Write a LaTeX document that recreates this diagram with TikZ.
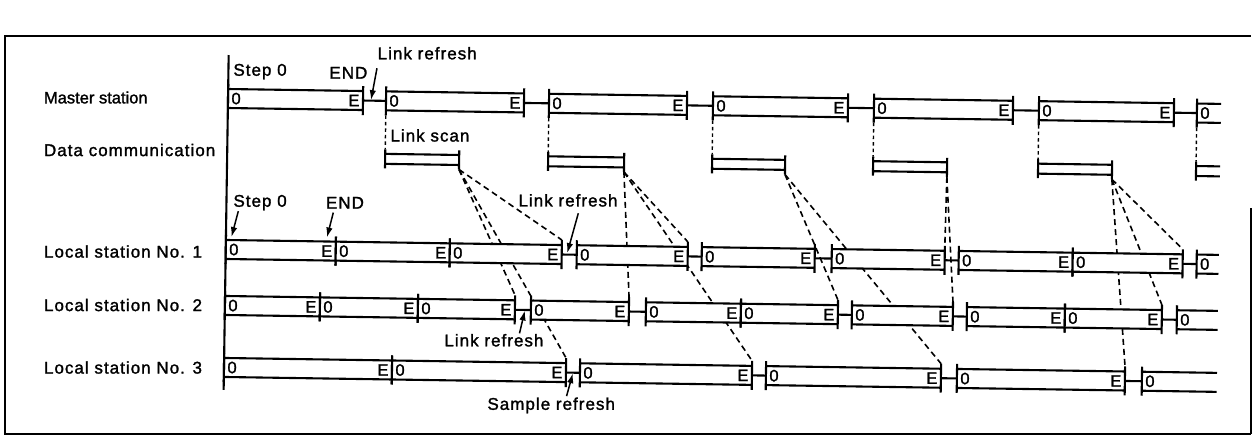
\documentclass[tikz,border=0pt]{standalone}
\usepackage{fontspec}
\setmainfont[LetterSpace=6,FakeBold=1.5]{Liberation Sans}
\newfontfamily\plainlab[FakeBold=1.5]{Liberation Sans}
\usetikzlibrary{arrows.meta}
\pgfdeclarelayer{bg}
\pgfsetlayers{bg,main}
% closed scan segment: name, x1, x2, ytop, ybottom
\newcommand\sg[5]{%
  \fill[white] (#2,#4) rectangle (#3,#5);
  \draw[bl] (#2,#4) -- (#3,#4) (#2,#5) -- (#3,#5)
            (#2,#4-5) -- (#2,#5+5) (#3,#4-5) -- (#3,#5+5);
  \coordinate (#1s) at (#2,#4-5);
  \coordinate (#1sb) at (#2,#5+5);
  \coordinate (#1e) at (#3,#4-5);
  \coordinate (#1eb) at (#3,#5+5);
  \coordinate (#1sm) at (#2,{(#4+#5)/2});
  \coordinate (#1em) at (#3,{(#4+#5)/2});
  \node[zero] (#1z) at (#2+3.5,{(#4+#5)/2}) {0};
  \node[endE] (#1E) at (#3-3.5,{(#4+#5)/2}) {E};
}
% open segment (runs off to the right)
\newcommand\osg[5]{%
  \fill[white] (#2,#4) rectangle (#3,#5);
  \draw[bl] (#2,#4) -- (#3,#4) (#2,#5) -- (#3,#5)
            (#2,#4-5) -- (#2,#5+5);
  \coordinate (#1s) at (#2,#4-5);
  \coordinate (#1sb) at (#2,#5+5);
  \coordinate (#1sm) at (#2,{(#4+#5)/2});
  \node[zero] (#1z) at (#2+3.5,{(#4+#5)/2}) {0};
}
% link scan bar: name, x1, x2
\newcommand\db[3]{%
  \fill[white] (#2,151.5) rectangle (#3,161.5);
  \draw[bl] (#2,151.5) -- (#3,151.5) (#2,161.5) -- (#3,161.5)
            (#2,147) -- (#2,166) (#3,147) -- (#3,166);
  \coordinate (#1s) at (#2,147);
  \coordinate (#1eb) at (#3,166);
}
\newcommand\odb[3]{%
  \draw[bl] (#2,151.5) -- (#3,151.5) (#2,161.5) -- (#3,161.5)
            (#2,147) -- (#2,166);
  \coordinate (#1s) at (#2,147);
}
\newcommand\gp[2]{\draw[bl] (#1em) -- (#2sm);}
\begin{document}
\begin{tikzpicture}[x=1pt,y=-1pt,
  every node/.style={inner sep=0pt,outer sep=0pt},
  bl/.style={line width=2.1pt},
  lab/.style={anchor=west,font=\fontsize{17}{20}\selectfont},
  ann/.style={font=\fontsize{17}{20}\selectfont},
  zero/.style={anchor=west,font=\fontsize{16.5}{18}\selectfont},
  endE/.style={anchor=east,font=\fontsize{16.5}{18}\selectfont},
  dsh/.style={line width=1.6pt,dash pattern=on 6pt off 4pt},
  vdsh/.style={line width=1.4pt,dash pattern=on 3.5pt off 3pt},
  arr/.style={line width=1.5pt,-{Latex[length=10pt,width=6.5pt]}},
]
\useasboundingbox (0,0) rectangle (1253,437);
% frame
\draw[line width=1.5pt] (5,36) -- (1251,36);
\draw[line width=2.6pt] (5,35) -- (5,435);
\draw[line width=1.6pt] (5,434) -- (1251,434);
\draw[line width=1.6pt] (1251,208) -- (1251,434);
% row labels
\node[lab,font=\plainlab\fontsize{16.5}{20}\selectfont] (lm) at (44,97.5) {Master station};
\node[lab] (ld) at (44,150) {Data communication};
\node[lab] (l1) at (44,251.5) {Local station No. 1};
\node[lab] (l2) at (44,305) {Local station No. 2};
\node[lab] (l3) at (44,367.5) {Local station No. 3};
\begin{scope}[rotate around={-0.86:(228,100)}]
% master station
\sg{m1}{228}{363}{89}{108}
\sg{m2}{386}{524}{89}{108}
\sg{m3}{549}{687}{89}{108}
\sg{m4}{713}{848}{89}{108}
\sg{m5}{874}{1013}{89}{108}
\sg{m6}{1039}{1174}{89}{108}
\osg{m7}{1197}{1221}{89}{108}
\gp{m1}{m2}\gp{m2}{m3}\gp{m3}{m4}\gp{m4}{m5}\gp{m5}{m6}\gp{m6}{m7}
% data communication
\db{d1}{386}{460}
\db{d2}{549}{625}
\db{d3}{713}{786}
\db{d4}{874}{948}
\db{d5}{1039}{1113}
\odb{d6}{1197}{1221}
% local station 1
\sg{a1}{228}{338}{240}{259}
\sg{a2}{338}{452}{240}{259}
\sg{a3}{452}{564}{240}{259}
\sg{a4}{579}{690}{240}{259}
\sg{a5}{704}{817}{240}{259}
\sg{a6}{834}{947}{240}{259}
\sg{a7}{961}{1075}{240}{259}
\sg{a8}{1075}{1185}{240}{259}
\osg{a9}{1199}{1221}{240}{259}
\gp{a3}{a4}\gp{a4}{a5}\gp{a5}{a6}\gp{a6}{a7}\gp{a8}{a9}
% local station 2
\sg{b1}{228}{323}{296}{315}
\sg{b2}{323}{421}{296}{315}
\sg{b3}{421}{518}{296}{315}
\sg{b4}{534}{632}{296}{315}
\sg{b5}{649}{744}{296}{315}
\sg{b6}{744}{841}{296}{315}
\sg{b7}{855}{956}{296}{315}
\sg{b8}{970}{1068}{296}{315}
\sg{b9}{1068}{1165}{296}{315}
\osg{b10}{1180}{1221}{296}{315}
\gp{b3}{b4}\gp{b4}{b5}\gp{b6}{b7}\gp{b7}{b8}\gp{b9}{b10}
% local station 3
\sg{c1}{228}{396}{358}{377}
\sg{c2}{396}{570}{358}{377}
\sg{c3}{584}{756}{358}{377}
\sg{c4}{770}{945}{358}{377}
\sg{c5}{961}{1129}{358}{377}
\osg{c6}{1146}{1221}{358}{377}
\gp{c2}{c3}\gp{c3}{c4}\gp{c4}{c5}\gp{c5}{c6}
% time axis
\coordinate (axT) at (228,55);
\coordinate (axB) at (228,390);
\draw[bl] (axT) -- (axB);
% dashed connectors behind the bars
\begin{pgfonlayer}{bg}
\foreach \m/\d in {m2/d1,m3/d2,m4/d3,m5/d4,m6/d5,m7/d6}
  \draw[vdsh] (\m sb) -- (\d s);
\foreach \d/\t in {d1/a3e,d1/b3e,d1/c2e,d2/a4e,d2/b4e,d2/c3e,d3/b6e,d3/c4e,d4/a6e,d4/b7e,d5/a8e,d5/b9e,d5/c5e}
  \draw[dsh] (\d eb) -- (\t);
\end{pgfonlayer}
% annotations
\node[ann,anchor=west] (st0m) at (233,71.5) {Step 0};
\node[ann] (endm) at (348,71) {END};
\node[ann,anchor=west] (lrt) at (377,51) {Link refresh};
\coordinate (lrtA) at (376.5,66);
\coordinate (lrtB) at (371,98);
\draw[arr] (lrtA) -- (lrtB);
\node[ann,anchor=west] (lsc) at (391,133) {Link scan};
\node[ann,anchor=west] (st01) at (235,202.5) {Step 0};
\coordinate (st01A) at (240,211);
\coordinate (st01B) at (233.5,237);
\draw[arr] (st01A) -- (st01B);
\node[ann] (end1) at (346.5,201) {END};
\coordinate (end1A) at (335,211);
\coordinate (end1B) at (329,236);
\draw[arr] (end1A) -- (end1B);
\node[ann,anchor=west] (lr1) at (520,196) {Link refresh};
\coordinate (lr1A) at (580,208);
\coordinate (lr1B) at (569.5,248);
\draw[arr] (lr1A) -- (lr1B);
\node[ann,anchor=west] (lr2) at (448,337) {Link refresh};
\coordinate (lr2A) at (523,329);
\coordinate (lr2B) at (528,306);
\draw[arr] (lr2A) -- (lr2B);
\node[ann,anchor=west] (sr) at (492,401.5) {Sample refresh};
\coordinate (srA) at (571,391);
\coordinate (srB) at (577,368);
\draw[arr] (srA) -- (srB);
\end{scope}
\end{tikzpicture}
\end{document}
